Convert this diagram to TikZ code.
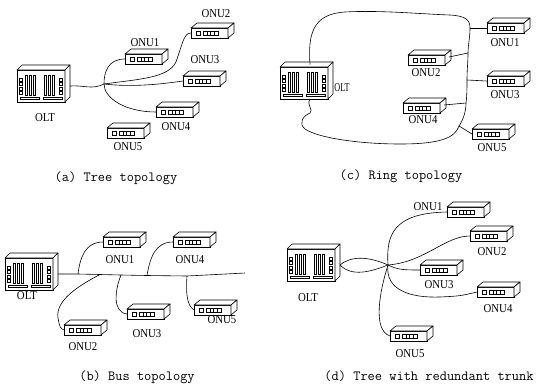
\documentclass[tikz,border=0pt]{standalone}
\usepackage{fontspec}
\setmainfont{Liberation Serif}
\tikzset{
  wire/.style={line width=0.6pt},
  dev/.style={draw, fill=white, line width=0.6pt, line join=round},
  detail/.style={line width=0.45pt},
  onubox/.style={rectangle, draw, fill=white, line width=0.6pt, minimum width=37pt, minimum height=10pt, inner sep=0pt, outer sep=0pt},
  oltbox/.style={rectangle, draw, fill=white, line width=0.6pt, minimum width=48pt, minimum height=32pt, inner sep=0pt, outer sep=0pt},
  lbl/.style={inner sep=0pt, font=\fontsize{12}{12}\selectfont},
  captext/.style={inner sep=0pt, font=\ttfamily\fontsize{14}{14}\selectfont},
}
\newcommand\lab[1]{\scalebox{0.9}[1]{#1}}
\newcommand\onudev[2]{%
  \node[onubox, anchor=north west] (#1) at (#2) {};
  \draw[dev] (#1.north west) -- ++(6,-5) -- ++(37,0) -- (#1.north east) -- cycle;
  \draw[dev] (#1.north east) -- ++(6,-5) -- ++(0,10) -- (#1.south east) -- cycle;
  \begin{scope}[shift={(#1.north west)}, detail]
    \draw (5,3) rectangle (9,7);
    \draw (12,3) rectangle (27,7);
    \draw (15.75,3) -- (15.75,7) (19.5,3) -- (19.5,7) (23.25,3) -- (23.25,7);
  \end{scope}
}
\newcommand\oltdev[2]{%
  \node[oltbox, anchor=north west] (#1) at (#2) {};
  \draw[dev] (#1.north west) -- ++(5,-5) -- ++(48,0) -- (#1.north east) -- cycle;
  \draw[dev] (#1.north east) -- ++(5,-5) -- ++(0,32) -- (#1.south east) -- cycle;
  \begin{scope}[shift={(#1.north west)}, detail]
    \foreach \yy in {8,12.5,17,21.5} {\draw (2,\yy) rectangle ++(3,3); \draw (42,\yy) rectangle ++(3,3);}
    \foreach \xx in {8,12,16,27,31,35} {\draw (\xx,5) rectangle ++(2.5,20);}
    \draw (3,27) rectangle (22,29.5);
    \draw (26,27) rectangle (45,29.5);
  \end{scope}
}
\begin{document}
\begin{tikzpicture}[x=1pt,y=-1pt]
\useasboundingbox (0,0) rectangle (537,388);
% ---------------- (a) tree
\oltdev{olta}{17,70}
\node[lbl] (oltal) at (45,118) {\lab{OLT}};
\onudev{a1}{125,54}
\onudev{a2}{191,28}
\onudev{a3}{183,76}
\onudev{a4}{156,107}
\onudev{a5}{107,128}
\node[lbl] (a1l) at (145,43) {\lab{ONU1}};
\node[lbl] (a2l) at (216,14) {\lab{ONU2}};
\node[lbl] (a3l) at (205,60) {\lab{ONU3}};
\node[lbl] (a4l) at (176,127) {\lab{ONU4}};
\node[lbl] (a5l) at (128,147) {\lab{ONU5}};
\coordinate (ja) at (104,84);
\draw[wire] ([xshift=5pt]olta.east) .. controls (84,85) and (92,90) .. (ja);
\draw[wire] (ja) .. controls (140,79) and (168,78) .. (176,62) .. controls (183,42) and (184,33) .. (a2.west);
\draw[wire] (ja) .. controls (130,87) and (155,85) .. (a3.west);
\draw[wire] (a1.west) .. controls (108,59) and (104,72) .. (ja) .. controls (104,98) and (125,112) .. (a4.west);
\node[captext] (capa) at (116,178) {(a) Tree topology};
% ---------------- (c) ring
\oltdev{oltc}{280,67}
\node[lbl] (oltcl) at (342,88) {\scalebox{0.68}[1]{OLT}};
\onudev{c1}{487,23}
\onudev{c2}{408,55}
\onudev{c3}{487,76}
\onudev{c4}{403,103}
\onudev{c5}{472,129}
\node[lbl] (c1l) at (505,43) {\lab{ONU1}};
\node[lbl] (c2l) at (426,73) {\lab{ONU2}};
\node[lbl] (c3l) at (505,95) {\lab{ONU3}};
\node[lbl] (c4l) at (423,120) {\lab{ONU4}};
\node[lbl] (c5l) at (492,148) {\lab{ONU5}};
\coordinate (ctop) at ([xshift=6pt,yshift=2.5pt]oltc.north);
\coordinate (cbot) at ([xshift=6pt]oltc.south);
\coordinate (r1) at (470,28);
\coordinate (r2) at (468,53);
\coordinate (r3) at (467,80);
\coordinate (r4) at (466,103);
\coordinate (r5) at (459,126);
\draw[wire] (ctop) .. controls (308,35) and (312,14) .. (345,12) .. controls (380,10) and (420,14) .. (450,15) .. controls (466,16) and (470,20) .. (r1) .. controls (470,38) and (468,45) .. (r2) .. controls (468,62) and (467,70) .. (r3) .. controls (467,88) and (467,95) .. (r4) .. controls (466,112) and (463,120) .. (r5) .. controls (455,138) and (440,144) .. (400,144) .. controls (360,144) and (318,138) .. (305,129) .. controls (298,123) and (303,116) .. (310,113) .. controls (314,110) and (306,105) .. (cbot);
\draw[wire] (r1) -- (c1.west);
\draw[wire] ([xshift=4pt,yshift=3pt]c2.east) -- (r2);
\draw[wire] (r3) -- (c3.west);
\draw[wire] ([xshift=4pt,yshift=3pt]c4.east) -- (r4);
\draw[wire] (r5) -- (c5.west);
\node[captext] (capc) at (401,176) {(c) Ring topology};
% ---------------- (b) bus
\oltdev{oltb}{5,258}
\onudev{b1}{103,237}
\onudev{b4}{173,237}
\onudev{b2}{64,325}
\onudev{b3}{127,309}
\onudev{b5}{194,305}
\node[lbl] (oltbl) at (27,296) {\lab{OLT}};
\node[lbl] (b1l) at (120,260) {\lab{ONU1}};
\node[lbl] (b4l) at (190,260) {\lab{ONU4}};
\node[lbl] (b2l) at (83,347) {\lab{ONU2}};
\node[lbl] (b3l) at (147,334) {\lab{ONU3}};
\node[lbl] (b5l) at (222,320) {\lab{ONU5}};
\coordinate (t1) at (78,274);
\coordinate (t2) at (100,274.5);
\coordinate (t3) at (121,275);
\coordinate (t4) at (147,275.5);
\coordinate (t5) at (187,276);
\coordinate (busend) at (245,273);
\draw[wire] ([xshift=5pt]oltb.east) -- (t1) -- (t2) -- (t3) -- (t4) -- (t5) -- (busend);
\draw[wire] (b1.west) .. controls (85,242) and (80,258) .. (t1);
\draw[wire] (b4.west) .. controls (155,242) and (150,258) .. (t4);
\draw[wire] (t2) .. controls (80,285) and (55,300) .. (58,318) .. controls (60,328) .. (b2.west);
\draw[wire] (t3) .. controls (115,290) and (112,312) .. (b3.west);
\draw[wire] (t5) .. controls (186,290) and (186,305) .. (b5.west);
\node[captext] (capb) at (137,377) {(b) Bus topology};
% ---------------- (d) redundant trunk
\oltdev{oltd}{287,249}
\node[lbl] (oltdl) at (308,298) {\lab{OLT}};
\onudev{d1}{447,207}
\onudev{d2}{470,231}
\onudev{d3}{420,265}
\onudev{d4}{477,287}
\onudev{d5}{390,331}
\node[lbl] (d1l) at (428,207) {\lab{ONU1}};
\node[lbl] (d2l) at (492,252) {\lab{ONU2}};
\node[lbl] (d3l) at (439,285) {\lab{ONU3}};
\node[lbl] (d4l) at (498,309) {\lab{ONU4}};
\node[lbl] (d5l) at (410,354) {\lab{ONU5}};
\coordinate (hub) at (388,265);
\draw[wire] ([xshift=5pt]oltd.east) .. controls (352,255) and (370,257) .. (hub);
\draw[wire] ([xshift=5pt]oltd.east) .. controls (352,277) and (370,272) .. (hub);
\draw[wire] (hub) .. controls (386,235) and (393,213) .. (d1.west);
\draw[wire] (hub) .. controls (425,262) and (445,236) .. (d2.west);
\draw[wire] (hub) .. controls (398,270) and (405,270) .. (d3.west);
\draw[wire] (hub) .. controls (385,290) and (410,298) .. (440,297) .. controls (460,296) .. (d4.west);
\draw[wire] (hub) .. controls (380,290) and (372,330) .. (d5.west);
\node[captext] (capd) at (429,376) {(d) Tree with redundant trunk};
\end{tikzpicture}
\end{document}
